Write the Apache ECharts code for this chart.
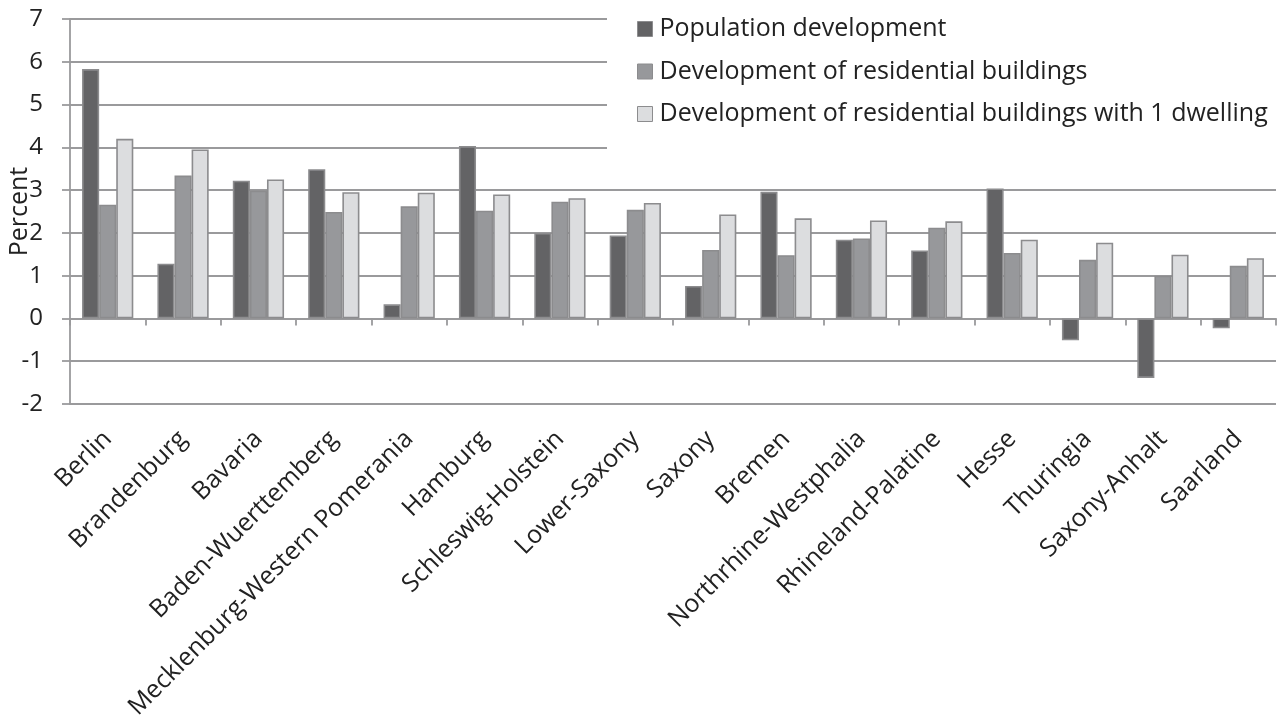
<!DOCTYPE html>
<html>
<head>
<meta charset="utf-8">
<script src="https://cdn.jsdelivr.net/npm/echarts@6/dist/echarts.min.js"></script>
<style>html,body{margin:0;padding:0;background:#fff;}#c{width:1279px;height:717px;}</style>
</head>
<body>
<div id="c"></div>
<script>
const categories = ["Berlin","Brandenburg","Bavaria","Baden-Wuerttemberg","Mecklenburg-Western Pomerania","Hamburg","Schleswig-Holstein","Lower-Saxony","Saxony","Bremen","Northrhine-Westphalia","Rhineland-Palatine","Hesse","Thuringia","Saxony-Anhalt","Saarland"];
const population = [5.83,1.28,3.22,3.49,0.33,4.03,2.00,1.94,0.76,2.96,1.84,1.59,3.04,-0.51,-1.39,-0.23];
const residential = [2.66,3.34,2.99,2.49,2.62,2.52,2.73,2.54,1.60,1.48,1.87,2.12,1.53,1.37,1.00,1.23];
const oneDwelling = [4.20,3.95,3.25,2.95,2.94,2.90,2.81,2.70,2.43,2.34,2.29,2.27,1.84,1.77,1.49,1.41];
const seriesNames = ["Population development","Development of residential buildings","Development of residential buildings with 1 dwelling"];
const yTicks = [-2,-1,0,1,2,3,4,5,6,7];

const FONT = "Open Sans";
const gridColor = "#9a9a9c";
const chart = echarts.init(document.getElementById('c'), null, {renderer:'canvas'});
function bar(name, data, color){
  return {name, type:'bar', data, xAxisIndex:0, barGap:'0%', barCategoryGap:'32%',
    itemStyle:{color, borderColor:'#8c8c8e', borderWidth:1.6}};
}
chart.setOption({
  animation:false,
  textStyle:{fontFamily:FONT},
  grid:{left:70, right:3, top:19, bottom:313, containLabel:false, outerBoundsMode:'none'},
  legend:{
    orient:'vertical', left:607, top:0,
    padding:[15,200,40,30],
    backgroundColor:'#ffffff',
    itemWidth:15, itemHeight:15, itemGap:14.5,
    icon:'rect',
    itemStyle:{borderColor:'#8c8c8e', borderWidth:1},
    textStyle:{fontFamily:FONT, fontSize:25, color:'#222', lineHeight:28, padding:[0,0,0,2]},
    data:seriesNames
  },
  xAxis:[{
    type:'category', data:categories, boundaryGap:true,
    axisLine:{onZero:true, lineStyle:{color:gridColor, width:1.8}},
    axisTick:{show:true, interval:0, length:7, lineStyle:{color:gridColor, width:1.8}},
    axisLabel:{show:false}
  },{
    type:'category', data:categories, boundaryGap:true, position:'bottom',
    axisLine:{show:false, onZero:false}, axisTick:{show:false},
    axisLabel:{show:true, rotate:45, interval:0, margin:31, fontFamily:FONT, fontSize:25, color:'#222'}
  }],
  yAxis:{
    type:'value', min:yTicks[0], max:yTicks[yTicks.length-1], interval:1,
    name:'Percent', nameLocation:'middle', nameGap:38, nameRotate:90, nameMoveOverlap:false,
    nameTextStyle:{fontFamily:FONT, fontSize:25, color:'#222'},
    axisLine:{show:true, lineStyle:{color:gridColor, width:1.8}},
    axisTick:{show:true, inside:false, length:8, lineStyle:{color:gridColor, width:1.8}},
    axisLabel:{margin:27, fontFamily:FONT, fontSize:24, color:'#222'},
    splitLine:{show:true, lineStyle:{color:gridColor, width:1.8}}
  },
  series:[
    bar(seriesNames[0], population, '#636365'),
    bar(seriesNames[1], residential, '#97989b'),
    bar(seriesNames[2], oneDwelling, '#dcdddf')
  ]
});
</script>
</body>
</html>
